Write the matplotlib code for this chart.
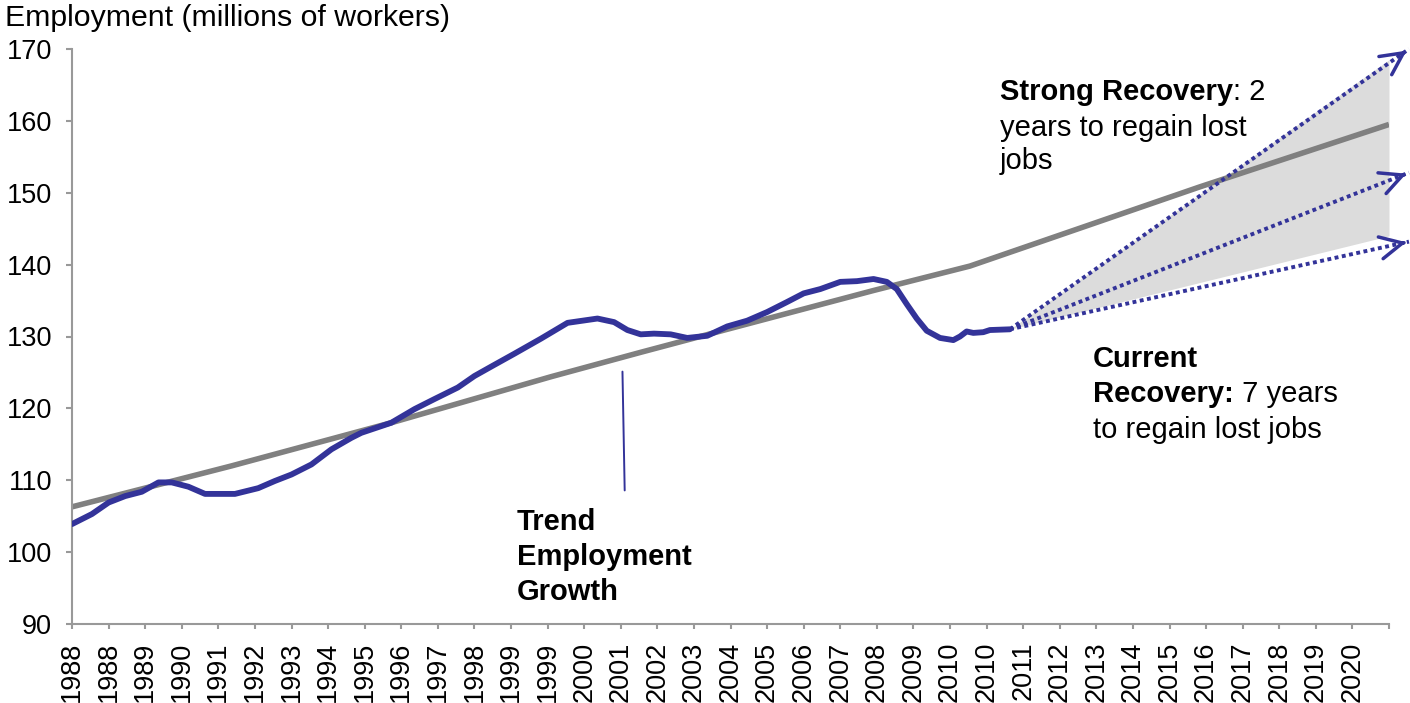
import numpy as np
import matplotlib
matplotlib.use("Agg")
from matplotlib import pyplot as plt

# monthly index: 0 = Jan 1988
hist_months = [0, 6, 11, 16, 21, 26, 30, 35, 40, 49, 56, 61, 66, 72, 78, 84, 87,
               96, 103, 109, 116, 121, 126, 133, 141, 145, 149, 155, 158, 163,
               167, 171, 175, 180, 185, 191, 197, 203, 209, 215, 220, 225, 231,
               236, 241, 245, 248, 251, 254, 257, 261, 265, 267, 269, 271, 274,
               276, 282]
hist_jobs = [103.9, 105.3, 106.9, 107.8, 108.4, 109.7, 109.7, 109.1, 108.1,
             108.1, 108.9, 109.9, 110.8, 112.2, 114.3, 115.9, 116.6, 118.0,
             119.9, 121.3, 122.9, 124.5, 125.8, 127.6, 129.7, 130.8, 131.9,
             132.3, 132.5, 132.0, 130.9, 130.3, 130.4, 130.3, 129.8, 130.1,
             131.4, 132.2, 133.4, 134.8, 136.0, 136.6, 137.6, 137.7, 138.0,
             137.6, 136.6, 134.5, 132.5, 130.8, 129.8, 129.5, 130.0, 130.7,
             130.5, 130.6, 130.9, 131.0]

trend_months = [0, 48, 96, 144, 171, 197, 241, 270, 339, 396]
trend_jobs = [106.3, 112.0, 118.0, 124.4, 127.8, 131.0, 136.4, 139.8, 150.8, 159.5]

# recovery paths: start at last observed point, end just past the axis
proj_start = (282, 131.0)
proj_end_month = 402
proj_ends = [170.0, 152.8, 143.2]

band_months = [282, 396]
band_low = [131.0, 144.0]
band_high = [131.0, 168.5]

tick_months = np.arange(0, 397, 11)
tick_labels = ["1988", "1988", "1989", "1990", "1991", "1992", "1993", "1994",
               "1995", "1996", "1997", "1998", "1999", "1999", "2000", "2001",
               "2002", "2003", "2004", "2005", "2006", "2007", "2008", "2009",
               "2010", "2010", "2011", "2012", "2013", "2014", "2015", "2016",
               "2017", "2018", "2019", "2020", ""]

BLUE = "#333399"
GRAY = "#808080"
AXIS = "#999999"
FS = 21
LS = 1.32
GAP = -5.3  # points between stacked text blocks

plt.rcParams["font.family"] = ["Liberation Sans", "DejaVu Sans"]

W, H = 1410, 703
fig = plt.figure(figsize=(W / 100, H / 100), dpi=100)
ax = fig.add_axes([72 / W, 1 - 624 / H, (1389 - 72) / W, (624 - 49) / H])

ax.fill_between(band_months, band_low, band_high, color="#DCDCDC", lw=0, zorder=1)
ax.plot(trend_months, trend_jobs, color=GRAY, lw=4.0, zorder=2,
        solid_capstyle="butt")
ax.plot(hist_months, hist_jobs, color=BLUE, lw=4.2, zorder=3,
        solid_capstyle="round", solid_joinstyle="round")

for end in proj_ends:
    ax.plot([proj_start[0], proj_end_month], [proj_start[1], end], color=BLUE,
            lw=2.8, linestyle=(0, (1.0, 0.9)), zorder=4, clip_on=False)
    # open arrow head at the end of each path
    dx = proj_end_month - proj_start[0]
    dy = end - proj_start[1]
    ax.annotate("", xy=(proj_end_month, end),
                xytext=(proj_end_month - dx * 0.02, end - dy * 0.02),
                arrowprops=dict(arrowstyle="->,head_length=0.8,head_width=0.4",
                                color=BLUE, lw=2.5, mutation_scale=20),
                annotation_clip=False, zorder=5)

ax.set_xlim(0, 396)
ax.set_ylim(90, 170)
ax.set_yticks(np.arange(90, 171, 10))
ax.set_xticks(tick_months)
ax.set_xticklabels(tick_labels, rotation=90, fontsize=19.5)
ax.tick_params(axis="y", labelsize=19.5, length=4.3, width=1.5, color=AXIS,
               pad=10)
ax.tick_params(axis="x", length=3.6, width=1.5, color=AXIS, pad=9)
for side in ("top", "right"):
    ax.spines[side].set_visible(False)
for side in ("left", "bottom"):
    ax.spines[side].set_color(AXIS)
    ax.spines[side].set_linewidth(1.5)

fig.text(5 / W, 1 - 4 / H, "Employment (millions of workers)", fontsize=21.8,
         va="top", ha="left")

# trend label with its pointer line
ax.annotate("", xy=(165.5, 125.5), xytext=(166.2, 108.2),
            arrowprops=dict(arrowstyle="-", color=BLUE, lw=1.4))
ax.text(133.8, 106.2, "Trend\nEmployment\nGrowth", fontsize=FS,
        fontweight="bold", va="top", ha="left", linespacing=LS)

# strong recovery label (bold lead-in, regular rest)
s1 = ax.text(279, 165.9, "Strong Recovery", fontsize=FS, fontweight="bold",
             va="top", ha="left")
ax.annotate(": 2", xy=(1, 0), xycoords=s1, fontsize=FS, va="bottom", ha="left")
ax.annotate("years to regain lost\njobs", xy=(0, 0), xycoords=s1,
            xytext=(0, GAP), textcoords="offset points", fontsize=FS,
            va="top", ha="left", linespacing=1.22)

# current recovery label
c1 = ax.text(307, 128.8, "Current\nRecovery:", fontsize=FS, fontweight="bold",
             va="top", ha="left", linespacing=LS)
ax.annotate(" 7 years", xy=(1, 0), xycoords=c1, fontsize=FS, va="bottom",
            ha="left")
ax.annotate("to regain lost jobs", xy=(0, 0), xycoords=c1,
            xytext=(0, GAP), textcoords="offset points", fontsize=FS,
            va="top", ha="left")

fig.savefig("out.png", dpi=100)
